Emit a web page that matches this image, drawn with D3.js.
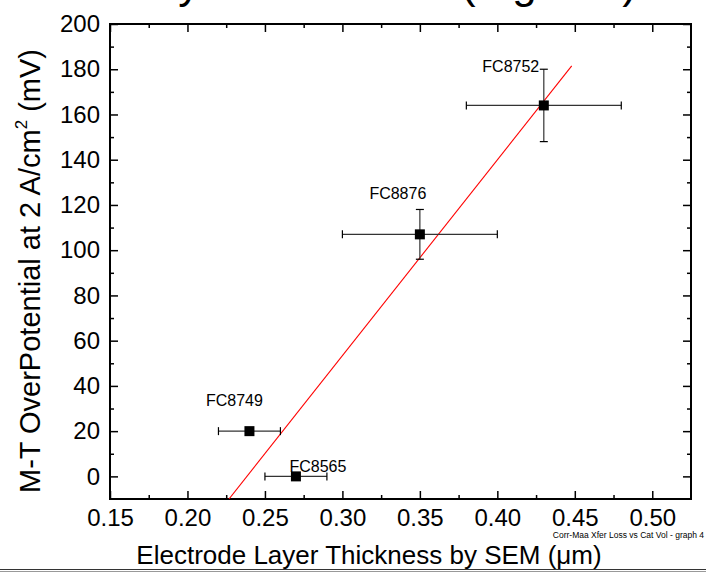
<!DOCTYPE html>
<html><head><meta charset="utf-8">
<script src="https://cdn.jsdelivr.net/npm/d3@7"></script>
<style>body{margin:0;background:#fff} svg{display:block}</style>
</head><body><svg id="c" width="706" height="574"></svg>
<script>
// ---- data ----
const samples = ["FC8752", "FC8876", "FC8749", "FC8565"];
const thickness = [0.43, 0.35, 0.24, 0.27];
const thicknessLow = [0.38, 0.30, 0.22, 0.25];
const thicknessHigh = [0.48, 0.40, 0.26, 0.29];
const overpotential = [164, 107, 20, 0];
const overpotentialLow = [148, 96, null, null];
const overpotentialHigh = [180, 118, null, null];
const fitX = [0.2268, 0.448];
const fitY = [-10, 181.5];
const xTicks = [0.15, 0.20, 0.25, 0.30, 0.35, 0.40, 0.45, 0.50];
const xMinorTicks = [0.175, 0.225, 0.275, 0.325, 0.375, 0.425, 0.475];
const yTicks = [0, 20, 40, 60, 80, 100, 120, 140, 160, 180, 200];
const yMinorTicks = [10, 30, 50, 70, 90, 110, 130, 150, 170, 190];

// ---- layout ----
const labelOffsets = [[-33, -33], [-22, -35], [-15, -25], [22, -4]];
const L = 110, R = 691, T = 24, B = 499;
const font = "Liberation Sans, Arial, sans-serif";

const svg = d3.select("#c");
const x = d3.scaleLinear().domain([0.15, 0.525]).range([L, R]);
const y = d3.scaleLinear().domain([-10, 200]).range([B, T]);

// title (cut off at the top edge in the original; only descenders show)
svg.append("text").attr("x", 637).attr("y", -2)
  .attr("text-anchor", "end").attr("font-family", font).attr("font-size", 44)
  .text("Cat Layer Thickness (mg/cm²)");

function styleAxis(g) {
  g.select(".domain").remove();
  g.selectAll(".tick line").attr("stroke", "#000").attr("stroke-width", 1.5);
  g.selectAll(".tick text").attr("font-family", font).attr("font-size", 24).attr("fill", "#000");
}

// major/minor ticks on all sides (inward)
svg.append("g").attr("transform", `translate(0,${B})`)
  .call(d3.axisBottom(x).tickValues(xTicks).tickSize(-8).tickPadding(10).tickFormat(d3.format(".2f")))
  .call(styleAxis);
svg.append("g").attr("transform", `translate(0,${B})`)
  .call(d3.axisBottom(x).tickValues(xMinorTicks).tickSize(-4).tickFormat(""))
  .call(styleAxis);
svg.append("g").attr("transform", `translate(0,${T})`)
  .call(d3.axisTop(x).tickValues(xTicks).tickSize(-8).tickFormat(""))
  .call(styleAxis);
svg.append("g").attr("transform", `translate(0,${T})`)
  .call(d3.axisTop(x).tickValues(xMinorTicks).tickSize(-4).tickFormat(""))
  .call(styleAxis);
svg.append("g").attr("transform", `translate(${L},0)`)
  .call(d3.axisLeft(y).tickValues(yTicks).tickSize(-8).tickPadding(10))
  .call(styleAxis);
svg.append("g").attr("transform", `translate(${L},0)`)
  .call(d3.axisLeft(y).tickValues(yMinorTicks).tickSize(-4).tickFormat(""))
  .call(styleAxis);
svg.append("g").attr("transform", `translate(${R},0)`)
  .call(d3.axisRight(y).tickValues(yTicks).tickSize(-8).tickFormat(""))
  .call(styleAxis);
svg.append("g").attr("transform", `translate(${R},0)`)
  .call(d3.axisRight(y).tickValues(yMinorTicks).tickSize(-4).tickFormat(""))
  .call(styleAxis);

// frame
svg.append("rect").attr("x", L).attr("y", T).attr("width", R - L).attr("height", B - T)
  .attr("fill", "none").attr("stroke", "#000").attr("stroke-width", 2);

// fit line (clipped)
svg.append("clipPath").attr("id", "pc").append("rect")
  .attr("x", L).attr("y", T).attr("width", R - L).attr("height", B - T);
svg.append("line").attr("clip-path", "url(#pc)")
  .attr("x1", x(fitX[0])).attr("y1", y(fitY[0]))
  .attr("x2", x(fitX[1])).attr("y2", y(fitY[1]))
  .attr("stroke", "#ff0000").attr("stroke-width", 1.1);

// error bars
const cap = 4;
const eb = svg.append("g").attr("stroke-width", 1.2);
samples.forEach((s, i) => {
  const cx = x(thickness[i]), cy = y(overpotential[i]);
  const x1 = x(thicknessLow[i]), x2 = x(thicknessHigh[i]);
  eb.append("line").attr("x1", x1).attr("x2", x2).attr("y1", cy).attr("y2", cy).attr("stroke", "#333");
  eb.append("line").attr("x1", x1).attr("x2", x1).attr("y1", cy - cap).attr("y2", cy + cap).attr("stroke", "#000");
  eb.append("line").attr("x1", x2).attr("x2", x2).attr("y1", cy - cap).attr("y2", cy + cap).attr("stroke", "#000");
  if (overpotentialLow[i] !== null) {
    const y1 = y(overpotentialLow[i]), y2 = y(overpotentialHigh[i]);
    eb.append("line").attr("x1", cx).attr("x2", cx).attr("y1", y1).attr("y2", y2).attr("stroke", "#333");
    eb.append("line").attr("x1", cx - cap).attr("x2", cx + cap).attr("y1", y1).attr("y2", y1).attr("stroke", "#000");
    eb.append("line").attr("x1", cx - cap).attr("x2", cx + cap).attr("y1", y2).attr("y2", y2).attr("stroke", "#000");
  }
});

// markers
svg.append("g").selectAll("rect").data(samples).join("rect")
  .attr("x", (d, i) => x(thickness[i]) - 5).attr("y", (d, i) => y(overpotential[i]) - 5)
  .attr("width", 10).attr("height", 10).attr("fill", "#000");

// point labels
svg.append("g").selectAll("text").data(samples).join("text")
  .attr("x", (d, i) => x(thickness[i]) + labelOffsets[i][0])
  .attr("y", (d, i) => y(overpotential[i]) + labelOffsets[i][1])
  .attr("text-anchor", "middle").attr("font-family", font).attr("font-size", 16)
  .text(d => d);

// axis titles
const yt = svg.append("text").attr("transform", "translate(40,271) rotate(-90)")
  .attr("text-anchor", "middle").attr("font-family", font).attr("font-size", 29);
yt.append("tspan").text("M-T OverPotential at 2 A/cm");
yt.append("tspan").attr("dy", "-0.75em").attr("font-size", 17).text("2");
yt.append("tspan").attr("dy", "0.44em").text(" (mV)");

svg.append("text").attr("x", 369).attr("y", 564).attr("text-anchor", "middle")
  .attr("font-family", font).attr("font-size", 26).text("Electrode Layer Thickness by SEM (μm)");

svg.append("text").attr("x", 704).attr("y", 538).attr("text-anchor", "end")
  .attr("font-family", font).attr("font-size", 8.5).text("Corr-Maa Xfer Loss vs Cat Vol - graph 4");

// bottom rule
svg.append("line").attr("x1", 0).attr("x2", 706).attr("y1", 569.5).attr("y2", 569.5)
  .attr("stroke", "#333").attr("stroke-width", 1);
svg.append("line").attr("x1", 0).attr("x2", 706).attr("y1", 571.5).attr("y2", 571.5)
  .attr("stroke", "#999").attr("stroke-width", 1);
</script></body></html>
